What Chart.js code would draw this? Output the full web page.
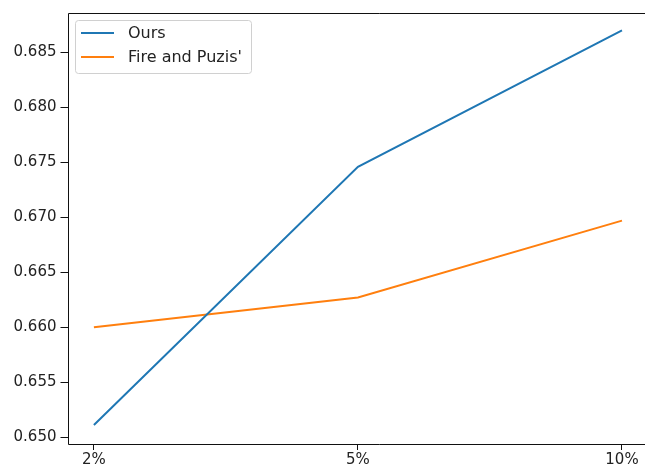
<!DOCTYPE html>
<html><head><meta charset="utf-8">
<script src="https://cdn.jsdelivr.net/npm/chart.js@4/dist/chart.umd.min.js"></script>
<style>
html,body{margin:0;padding:0;background:#fff;overflow:hidden;width:645px;height:471px}
#wrap{position:absolute;left:0;top:0;width:690px;height:471px}
</style></head><body>
<div id="wrap"><canvas id="c" width="690" height="471"></canvas></div>
<script>
const categories = ["2%", "5%", "10%"];
const oursValues = [0.6511, 0.6746, 0.6870];
const fireValues = [0.6600, 0.6627, 0.6697];
const yTicks = [0.650, 0.655, 0.660, 0.665, 0.670, 0.675, 0.680, 0.685];
const seriesLabels = ["Ours", "Fire and Puzis'"];

const FONT = "'DejaVu Sans', sans-serif";
const toPts = vals => vals.map((v, i) => ({x: i, y: v}));

const framePlugin = {
  id: 'frame',
  afterDraw(chart) {
    const {ctx, chartArea: a} = chart;
    ctx.save();
    ctx.strokeStyle = '#111';
    ctx.lineWidth = 1;
    const L = Math.round(a.left) + 0.5, T = Math.round(a.top) + 0.5, B = Math.round(a.bottom) + 0.5;
    ctx.beginPath();
    ctx.moveTo(700, T); ctx.lineTo(L, T); ctx.lineTo(L, B); ctx.lineTo(700, B);
    ctx.stroke();
    // legend
    const lx = 75.5, ly = 20.5, lw = 176, lh = 53;
    ctx.fillStyle = 'rgba(255,255,255,0.8)';
    ctx.strokeStyle = '#d0d0d0';
    ctx.lineWidth = 1;
    ctx.beginPath();
    if (ctx.roundRect) ctx.roundRect(lx, ly, lw, lh, 3); else ctx.rect(lx, ly, lw, lh);
    ctx.fill(); ctx.stroke();
    ctx.font = '16px ' + FONT;
    ctx.textBaseline = 'middle';
    chart.data.datasets.forEach((ds, i) => {
      const y = 33 + i * 24;
      ctx.strokeStyle = ds.borderColor;
      ctx.lineWidth = 2;
      ctx.beginPath(); ctx.moveTo(81, y); ctx.lineTo(114, y); ctx.stroke();
      ctx.fillStyle = '#222';
      ctx.fillText(ds.label, 128, y + 1);
    });
    ctx.restore();
  }
};

new Chart(document.getElementById('c'), {
  type: 'line',
  data: {
    datasets: [
      {label: seriesLabels[0], data: toPts(oursValues), borderColor: '#1f77b4', borderWidth: 2, pointRadius: 0, fill: false, tension: 0},
      {label: seriesLabels[1], data: toPts(fireValues), borderColor: '#ff7f0e', borderWidth: 2, pointRadius: 0, fill: false, tension: 0}
    ]
  },
  options: {
    responsive: false,
    animation: false,
    devicePixelRatio: 1,
    layout: {padding: {top: 12, right: 41.6, left: 0, bottom: 0}},
    plugins: {legend: {display: false}, tooltip: {enabled: false}},
    scales: {
      x: {
        type: 'linear', min: -0.1, max: 2.1,
        afterBuildTicks: s => { s.ticks = categories.map((c, i) => ({value: i})); },
        afterFit: s => { s.height = 471 - 444; },
        ticks: {callback: v => categories[v] ?? '', color: '#222', font: {family: FONT, size: 15}, padding: 1, maxRotation: 0, autoSkip: false},
        grid: {drawOnChartArea: false, drawTicks: true, tickLength: 6, tickColor: '#111', color: '#111'},
        border: {display: false}
      },
      y: {
        min: 0.64937, max: 0.68859,
        afterBuildTicks: s => { s.ticks = yTicks.map(v => ({value: v})); },
        afterFit: s => { s.width = 67.5; },
        ticks: {callback: v => v.toFixed(3), color: '#222', font: {family: FONT, size: 15}, padding: 4, autoSkip: false},
        grid: {drawOnChartArea: false, drawTicks: true, tickLength: 7, tickColor: '#111', color: '#111'},
        border: {display: false}
      }
    }
  },
  plugins: [framePlugin]
});
</script>
</body></html>
